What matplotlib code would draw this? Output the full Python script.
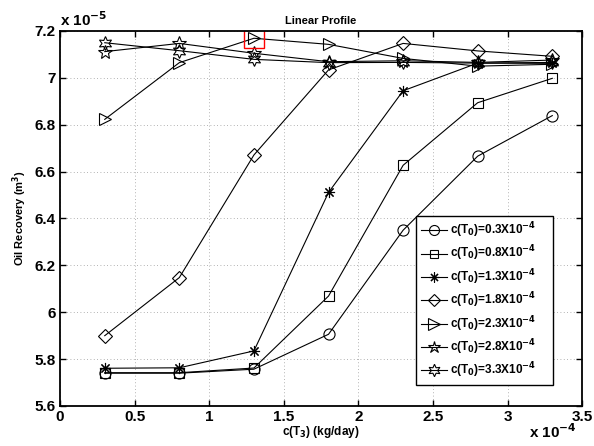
import matplotlib
matplotlib.use("Agg")
import matplotlib.pyplot as plt

plt.rcParams['font.family'] = ['Liberation Sans', 'DejaVu Sans']
plt.rcParams['font.weight'] = 'bold'

# c(T3), in units of 1e-4 kg/day
x = [0.3, 0.8, 1.3, 1.8, 2.3, 2.8, 3.3]
# oil recovery, in units of 1e-5 m^3
c03 = [5.740, 5.740, 5.757, 5.906, 6.350, 6.666, 6.839]
c08 = [5.742, 5.742, 5.762, 6.069, 6.627, 6.894, 6.998]
c13 = [5.761, 5.763, 5.835, 6.511, 6.945, 7.063, 7.062]
c18 = [5.900, 6.148, 6.671, 7.034, 7.147, 7.115, 7.092]
c23 = [6.823, 7.065, 7.169, 7.143, 7.083, 7.050, 7.058]
c28 = [7.112, 7.147, 7.105, 7.069, 7.073, 7.066, 7.076]
c33 = [7.150, 7.116, 7.079, 7.065, 7.066, 7.063, 7.066]
labels = ['0.3', '0.8', '1.3', '1.8', '2.3', '2.8', '3.3']

series = [c03, c08, c13, c18, c23, c28, c33]
markers = ['o', 's', (8, 2, 0), 'D', '>', '*', (6, 1, 0)]
msizes = [8, 7, 8, 7, 9, 10, 10]

fig = plt.figure(figsize=(5.94, 4.46), dpi=100)
ax = fig.add_axes([0.101, 0.0897, 0.879, 0.8408])

for ys, m, ms, lab in zip(series, markers, msizes, labels):
    ax.plot(x, ys, color='black', lw=0.8, marker=m, ms=ms, mfc='none',
            mec='black', mew=0.8,
            label='c(T$_\\mathbf{0}$)=' + lab + 'X10$^{\\mathbf{-4}}$')

# highlight the maximum
i = c23.index(max(c23))
ax.plot([x[i]], [c23[i]], marker='s', ms=15, mfc='none', mec='red', mew=1, ls='none')

ax.set_xlim(0, 3.5)
ax.set_ylim(5.6, 7.2)
ax.set_xticks([0, 0.5, 1, 1.5, 2, 2.5, 3, 3.5])
ax.set_xticklabels(['0', '0.5', '1', '1.5', '2', '2.5', '3', '3.5'])
ax.set_yticks([5.6, 5.8, 6, 6.2, 6.4, 6.6, 6.8, 7, 7.2])
ax.set_yticklabels(['5.6', '5.8', '6', '6.2', '6.4', '6.6', '6.8', '7', '7.2'])
ax.tick_params(direction='in', labelsize=11, width=1, length=4, top=True, right=True, pad=3)
for s in ax.spines.values():
    s.set_linewidth(1.3)
ax.grid(True, color='#9a9a9a', lw=0.6, dashes=(1, 3))

ax.set_title('Linear Profile', fontsize=8, fontweight='bold', pad=5)
ax.set_xlabel('c(T$_\\mathbf{3}$) (kg/day)', fontsize=8.5, fontweight='bold', labelpad=0)
ax.set_ylabel('Oil Recovery (m$^\\mathbf{3}$)', fontsize=8, fontweight='bold', labelpad=4)

ax.text(0.0, 1.005, 'x 10$^{\\mathbf{-5}}$', transform=ax.transAxes, fontsize=11,
        fontweight='bold', ha='left', va='bottom')
ax.text(0.99, -0.043, 'x 10$^{\\mathbf{-4}}$', transform=ax.transAxes, fontsize=11,
        fontweight='bold', ha='right', va='top')

leg = ax.legend(loc='lower left', bbox_to_anchor=(0.682, 0.056, 0.262, 0.445),
                mode='expand', borderaxespad=0, fontsize=8.5, handlelength=2.2,
                labelspacing=0.32, borderpad=0.4, handletextpad=0.3, fancybox=False,
                framealpha=1, edgecolor='black', markerscale=0.9)
leg.get_frame().set_linewidth(1.0)

fig.savefig('out.png', dpi=100)
